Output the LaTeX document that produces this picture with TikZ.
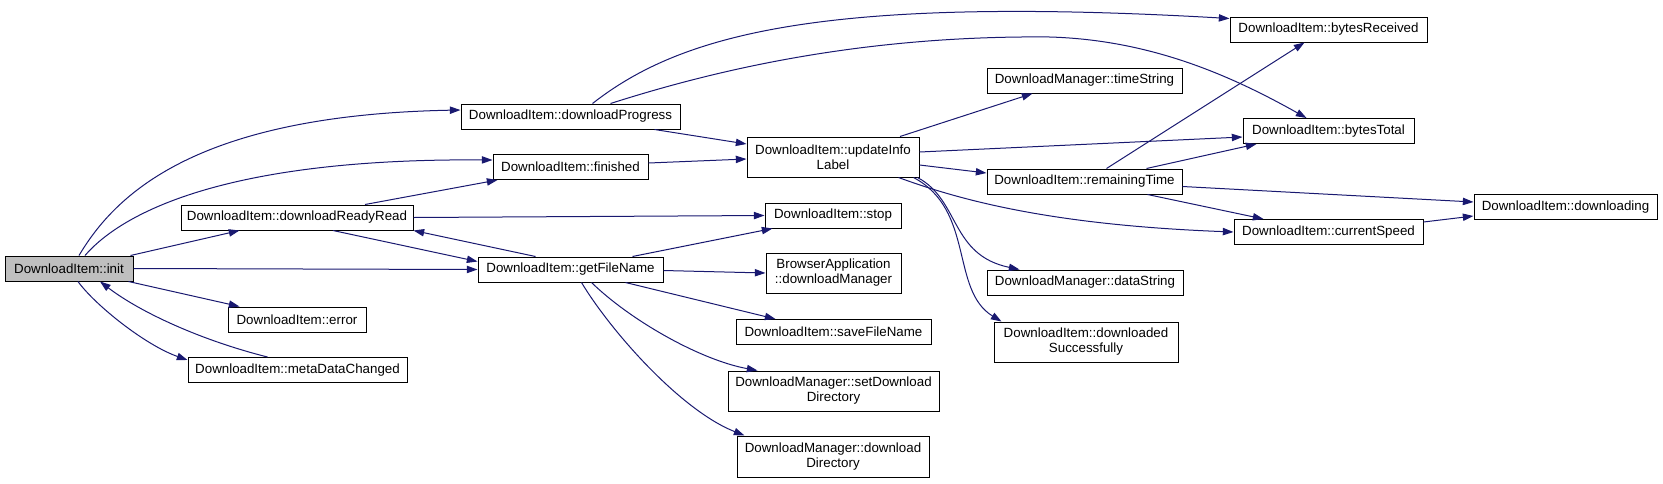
\documentclass[tikz,border=0pt]{standalone}
\usepackage{fontspec}
\setmainfont{Liberation Sans}
\usetikzlibrary{arrows.meta,calc}
\definecolor{edgeblue}{RGB}{25,25,112}
\definecolor{rootgray}{RGB}{191,191,191}
\begin{document}
\begin{tikzpicture}[x=0.75pt,y=-0.75pt,
  box/.style={draw=black,line width=0.75pt,fill=white,inner sep=0pt,minimum height=18.75pt,
    align=center,font=\fontsize{10pt}{11.25pt}\selectfont},
  tall/.style={minimum height=30pt},
  call/.style={draw=edgeblue,line width=0.75pt,-{Triangle[length=8pt,width=5.5pt]}}]
\useasboundingbox (0,0) rectangle (1663,483);

\node[box,fill=rootgray,minimum width=96pt] (init) at (69,268.5) {DownloadItem::init};
\node[box,minimum width=174pt] (ready) at (297,217.5) {DownloadItem::downloadReadyRead};
\node[box,minimum width=103.5pt] (error) at (297,319.5) {DownloadItem::error};
\node[box,minimum width=164.25pt] (meta) at (297.5,370) {DownloadItem::metaDataChanged};
\node[box,minimum width=164.25pt] (progress) at (570.5,116.5) {DownloadItem::downloadProgress};
\node[box,minimum width=116.25pt] (finished) at (570.5,167) {DownloadItem::finished};
\node[box,minimum width=138.75pt] (getfile) at (570.5,269.5) {DownloadItem::getFileName};
\node[box,tall,minimum width=129pt] (update) at (833,157) {DownloadItem::updateInfo\\Label};
\node[box,minimum width=102pt] (stop) at (833,215.5) {DownloadItem::stop};
\node[box,tall,minimum width=101.25pt] (browser) at (833.5,273) {BrowserApplication\\::downloadManager};
\node[box,minimum width=146.25pt] (savefile) at (833.5,332) {DownloadItem::saveFileName};
\node[box,tall,minimum width=158.25pt] (setdir) at (833.5,391) {DownloadManager::setDownload\\Directory};
\node[box,tall,minimum width=144pt,minimum height=30.75pt] (dldir) at (833,456.5) {DownloadManager::download\\Directory};
\node[box,minimum width=146.25pt] (timestr) at (1084.5,80.5) {DownloadManager::timeString};
\node[box,minimum width=146.25pt] (remain) at (1084.5,181.5) {DownloadItem::remainingTime};
\node[box,minimum width=147pt] (datastr) at (1085,282.5) {DownloadManager::dataString};
\node[box,tall,minimum width=138pt] (success) at (1086,342) {DownloadItem::downloaded\\Successfully};
\node[box,minimum width=147.75pt] (brecv) at (1328.5,29.5) {DownloadItem::bytesReceived};
\node[box,minimum width=128.25pt] (btotal) at (1328.5,131) {DownloadItem::bytesTotal};
\node[box,minimum width=141.75pt] (speed) at (1328.5,232) {DownloadItem::currentSpeed};
\node[box,minimum width=137.25pt] (dling) at (1565.5,207) {DownloadItem::downloading};

% from init
\draw[call] ($(init.north)+(10,0)$) .. controls (115,195) and (195,115) .. ($(progress.west)+(0,-6.5)$);
\draw[call] ($(init.north)+(16,0)$) .. controls (120,215) and (220,158) .. ($(finished.west)+(0,-7)$);
\draw[call] ($(init.north east)+(-3,0)$) -- ($(ready.south west)+(59,0)$);
\draw[call] (init.east) -- (getfile.west);
\draw[call] ($(init.south east)+(-5,0)$) -- ($(error.north west)+(12,0)$);
\draw[call] ($(init.south)+(9,0)$) .. controls (95,305) and (145,345) .. ($(meta.west)+(0,-10)$);
\draw[call] ($(meta.north)+(-30,0)$) .. controls (200,340) and (140,312) .. ($(init.south)+(31,0)$);

% from downloadReadyRead
\draw[call] ($(ready.north)+(68,0)$) -- ($(finished.south west)+(5,0)$);
\draw[call] (ready.east) -- (stop.west);
\draw[call] ($(ready.south)+(36,0)$) -- ($(getfile.west)+(0,-8)$);

% from getFileName
\draw[call] ($(getfile.north)+(-35,0)$) -- (ready.south east);
\draw[call] ($(getfile.north)+(62,0)$) -- ($(stop.south west)+(8,0)$);
\draw[call] ($(getfile.east)+(0,1)$) -- (browser.west);
\draw[call] ($(getfile.south)+(55,0)$) -- ($(savefile.north west)+(40,0)$);
\draw[call] ($(getfile.south)+(21,0)$) .. controls (630,320) and (700,360) .. ($(setdir.north west)+(30,0)$);
\draw[call] ($(getfile.south)+(11,0)$) .. controls (610,330) and (680,410) .. ($(dldir.north west)+(8,0)$);

% from downloadProgress
\draw[call] ($(progress.north)+(22,0)$) .. controls (680,35) and (820,-5) .. ($(brecv.north west)+(0,2)$);
\draw[call] ($(progress.north)+(40,0)$) .. controls (700,75) and (850,35) .. (1050,37) .. controls (1150,40) and (1230,75) .. ($(btotal.north west)+(64,0)$);
\draw[call] ($(progress.south)+(84,0)$) -- ($(update.west)+(0,-13)$);

% from finished
\draw[call] ($(finished.east)+(0,-4)$) -- ($(update.west)+(0,2)$);

% from updateInfoLabel
\draw[call] ($(update.north)+(67,0)$) -- ($(timestr.south west)+(46,0)$);
\draw[call] ($(update.east)+(0,-5)$) -- ($(btotal.west)+(0,6)$);
\draw[call] ($(update.east)+(0,8)$) -- ($(remain.west)+(0,-8.5)$);
\draw[call] ($(update.south east)+(-21,0)$) .. controls (960,200) and (1050,225) .. (speed.west);
\draw[call] ($(update.south east)+(-2,0)$) .. controls (960,200) and (950,255) .. ($(datastr.north west)+(33,0)$);
\draw[call] ($(update.south east)+(-6,0)$) .. controls (975,210) and (950,290) .. ($(success.north west)+(8,0)$);

% from remainingTime
\draw[call] ($(remain.north)+(22,0)$) -- ($(brecv.south west)+(75,0)$);
\draw[call] ($(remain.north)+(62,0)$) -- ($(btotal.south west)+(14,0)$);
\draw[call] ($(remain.east)+(0,5)$) -- ($(dling.west)+(0,-5)$);
\draw[call] ($(remain.south)+(63,0)$) -- ($(speed.north west)+(30,0)$);

% from currentSpeed
\draw[call] ($(speed.east)+(0,-10)$) -- ($(dling.west)+(0,9)$);
\end{tikzpicture}
\end{document}
